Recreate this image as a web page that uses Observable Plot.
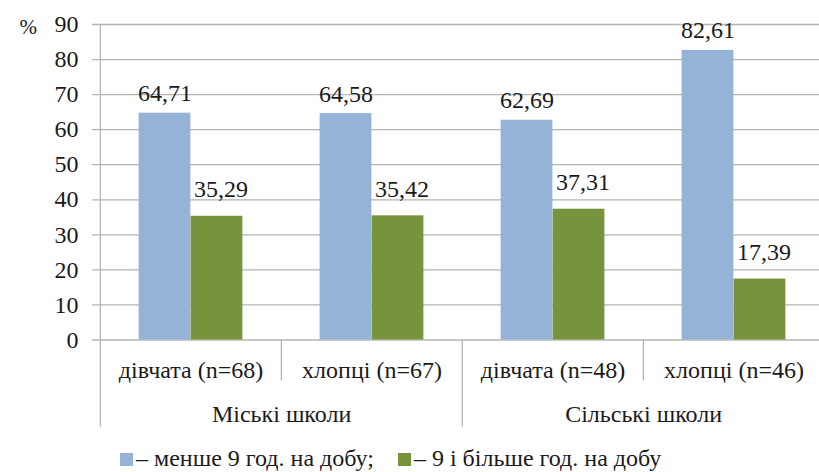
<!DOCTYPE html>
<html>
<head>
<meta charset="utf-8">
<script src="https://cdn.jsdelivr.net/npm/d3@7"></script>
<script src="https://cdn.jsdelivr.net/npm/@observablehq/plot@0.6"></script>
<style>
  html, body { margin: 0; padding: 0; background: #fff; }
  body { font-family: 'Liberation Serif'; color: #1a1a1a; width: 819px; overflow: hidden; }
  #legend { font-family: 'Liberation Serif'; height: 32px; line-height: 32px; font-size: 24px; padding-left: 120px; white-space: nowrap; box-sizing: border-box; padding-top: 2px; }
  #legend .sw { display: inline-block; width: 13px; height: 13px; margin-right: 3px; }
  #legend .gap { display: inline-block; width: 24px; }
</style>
</head>
<body>
<div id="chart"></div>
<div id="legend"></div>
<script>
// School groups and the pupil categories inside them
const groups = ["Міські школи", "Сільські школи"];
const categories = ["дівчата (n=68)", "хлопці (n=67)", "дівчата (n=48)", "хлопці (n=46)"];
const categoryGroup = ["Міські школи", "Міські школи", "Сільські школи", "Сільські школи"];

// Share of pupils (%) by nightly sleep duration
const seriesNames = ["– менше 9 год. на добу;", "– 9 і більше год. на добу"];
const lessThan9 = [64.71, 64.58, 62.69, 82.61];
const nineOrMore = [35.29, 35.42, 37.31, 17.39];
const seriesColors = ["#95b3d7", "#77933c"];

// Y axis ticks
const yTicks = [0, 10, 20, 30, 40, 50, 60, 70, 80, 90];

const rows = categories.flatMap((c, i) => [
  {category: c, series: seriesNames[0], value: lessThan9[i]},
  {category: c, series: seriesNames[1], value: nineOrMore[i]}
]);
const blueRows = rows.filter(d => d.series === seriesNames[0]);
const greenRows = rows.filter(d => d.series === seriesNames[1]);

// Layout
const svgWidth = 819, svgHeight = 440;
const plotLeft = 99, plotRight = 824, plotTop = 24, plotZero = 339.5;
const bw = (plotRight - plotLeft) / categories.length;   // category band width
const barW = 52;                                          // single bar width
const barInset = (bw - 2 * barW) / 2;
const gridColor = "#b4b4b4";
const serif = "Liberation Serif";

const fmt = v => v.toFixed(2).replace(".", ",");
const txt = (extra) => ({fontFamily: serif, fontSize: 24, fill: "#1a1a1a", ...extra});

const chart = Plot.plot({
  width: svgWidth,
  height: svgHeight,
  marginLeft: plotLeft,
  marginRight: svgWidth - plotRight,
  marginTop: plotTop,
  marginBottom: svgHeight - plotZero,
  style: {fontFamily: serif, fontSize: "24px", color: "#1a1a1a", background: "#fff", overflow: "visible"},
  x: {type: "band", domain: categories, padding: 0, axis: null},
  y: {domain: [0, 90], axis: null},
  marks: [
    // grid lines with their left tick marks
    Plot.ruleY(yTicks, {stroke: gridColor, strokeWidth: 1.3, insetLeft: -7}),
    // bars
    Plot.barY(blueRows, {x: "category", y: "value", fill: seriesColors[0], insetLeft: barInset, insetRight: barInset + barW}),
    Plot.barY(greenRows, {x: "category", y: "value", fill: seriesColors[1], insetLeft: barInset + barW, insetRight: barInset}),
    // value labels
    Plot.text(blueRows, txt({x: "category", y: "value", text: d => fmt(d.value), lineAnchor: "bottom", dx: -barW / 2, dy: -12})),
    Plot.text(greenRows, txt({x: "category", y: "value", text: d => fmt(d.value), lineAnchor: "bottom", dx: barW / 2 + 4, dy: -19})),
    // vertical axis line, continued down past the group labels
    Plot.ruleX([categories[0]], {x: d => d, dx: -bw / 2, stroke: gridColor, strokeWidth: 1.3, insetBottom: -87}),
    // dividers between categories within a group
    Plot.ruleX([categories[1], categories[3]], {x: d => d, dx: -bw / 2, stroke: gridColor, strokeWidth: 1.3, insetTop: plotZero - plotTop, insetBottom: -41}),
    // divider between the two school groups
    Plot.ruleX([categories[2]], {x: d => d, dx: -bw / 2, stroke: gridColor, strokeWidth: 1.3, insetTop: plotZero - plotTop, insetBottom: -87}),
    // y tick labels
    Plot.text(yTicks, txt({y: d => d, text: d => String(d), frameAnchor: "left", textAnchor: "end", dx: -21})),
    // unit label
    Plot.text(["%"], txt({text: d => d, frameAnchor: "top-left", dx: -80, dy: 9, lineAnchor: "bottom", fontSize: 21})),
    // category labels
    Plot.text(categories, txt({x: d => d, text: d => d, frameAnchor: "bottom", lineAnchor: "bottom", dy: 37.5})),
    // group labels
    Plot.text(groups, txt({x: g => categories[categoryGroup.indexOf(g)], text: d => d, frameAnchor: "bottom", lineAnchor: "bottom", dx: bw / 2, dy: 81.5}))
  ]
});
document.getElementById("chart").appendChild(chart);

// Legend
const legend = document.getElementById("legend");
seriesNames.forEach((name, i) => {
  if (i > 0) {
    const gap = document.createElement("span");
    gap.className = "gap";
    legend.appendChild(gap);
  }
  const sw = document.createElement("span");
  sw.className = "sw";
  sw.style.background = seriesColors[i];
  legend.appendChild(sw);
  legend.appendChild(document.createTextNode(name));
});
</script>
</body>
</html>
